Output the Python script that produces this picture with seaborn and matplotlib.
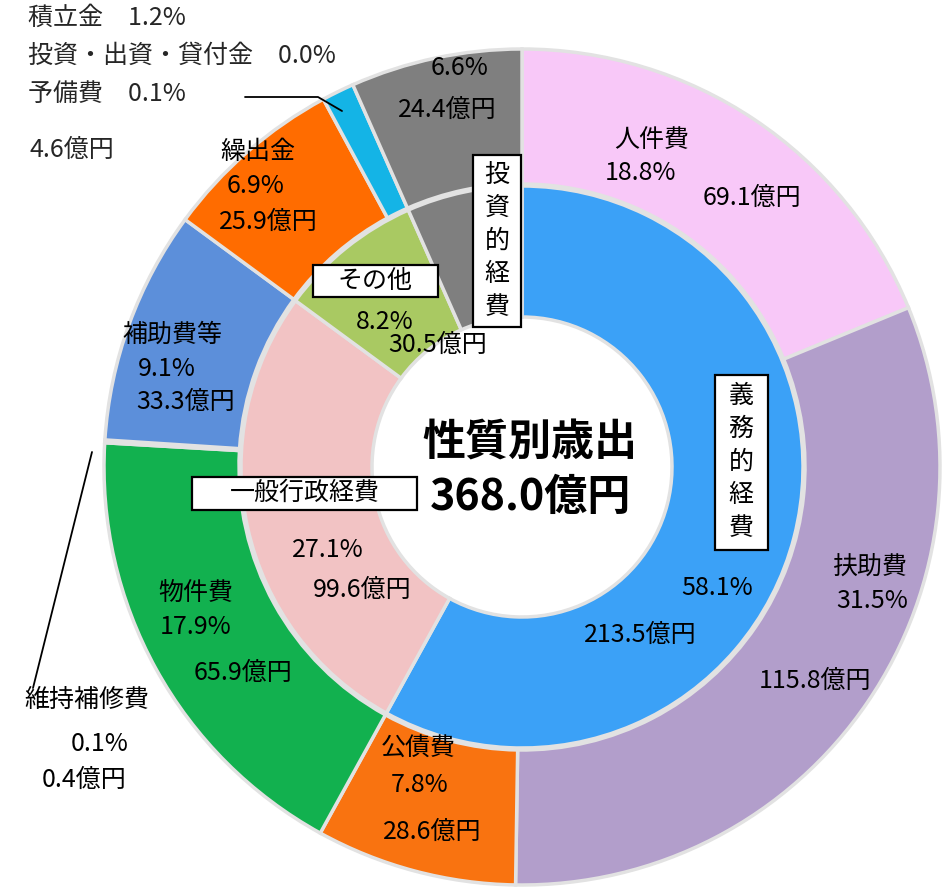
import matplotlib
matplotlib.use("Agg")
import matplotlib.pyplot as plt
from matplotlib.patches import Rectangle
import seaborn as sns

sns.set_theme(style="white")
plt.rcParams['font.family'] = ['Noto Sans CJK JP', 'DejaVu Sans']

# ---------------- data ----------------
outer_names = ["人件費", "扶助費", "公債費", "物件費", "維持補修費", "補助費等", "繰出金",
               "積立金・投資・出資・貸付金・予備費", "投資的経費"]
outer_values = [69.1, 115.8, 28.6, 65.9, 0.4, 33.3, 25.9, 4.6, 24.4]
outer_pcts = [18.8, 31.5, 7.8, 17.9, 0.1, 9.1, 6.9, 1.3, 6.6]
outer_colors = ["#F8C8F8", "#B29ECB", "#F97310", "#12B14F", "#D8D8D8",
                "#5C8FDA", "#FF6C00", "#14B4E6", "#7F7F7F"]

small_names = ["積立金", "投資・出資・貸付金", "予備費"]
small_pcts = [1.2, 0.0, 0.1]

inner_names = ["義務的経費", "一般行政経費", "その他", "投資的経費"]
inner_values = [213.5, 99.6, 30.5, 24.4]
inner_pcts = [58.1, 27.1, 8.2, 6.6]
inner_colors = ["#3BA1F7", "#F2C3C4", "#A9C962", "#7F7F7F"]

total_title = "性質別歳出"
total_value = 368.0

# ---------------- figure ----------------
W, H = 953, 890
fig = plt.figure(figsize=(W / 100, H / 100), dpi=100)
ax = fig.add_axes([0, 0, 1, 1])
ax.set_xlim(0, W)
ax.set_ylim(0, H)
ax.set_aspect("equal")
ax.axis("off")


def P(x, y):
    return (x, H - y)


cx, cy = P(522, 467)
R_out, R_mid, R_in = 418, 283, 150

ax.pie(outer_values, radius=R_out, center=(cx, cy), colors=outer_colors,
       startangle=90, counterclock=False,
       wedgeprops=dict(width=R_out - R_mid, edgecolor="#E2E2E2", linewidth=2.5))
ax.pie(inner_values, radius=R_mid - 2, center=(cx, cy), colors=inner_colors,
       startangle=90, counterclock=False,
       wedgeprops=dict(width=R_mid - 2 - R_in, edgecolor="#E2E2E2", linewidth=2.5))
ax.set_xlim(0, W)
ax.set_ylim(0, H)

FS = 18


def T(x, y, s, size=FS, **kw):
    ax.text(*P(x, y), s, fontsize=size, ha="center", va="center", color="black", **kw)


def BOX(x0, y0, x1, y1):
    ax.add_patch(Rectangle((x0, H - y1), x1 - x0, y1 - y0, facecolor="white",
                           edgecolor="black", linewidth=1.6, zorder=3))


def oku(v):
    return f"{v:.1f}億円"


def pc(v):
    return f"{v:.1f}%"


# outer labels
T(652, 140, outer_names[0]); T(641, 173, pc(outer_pcts[0])); T(752, 198, oku(outer_values[0]))
T(870, 567, outer_names[1]); T(872, 601, pc(outer_pcts[1])); T(815, 681, oku(outer_values[1]))
T(418, 749, outer_names[2]); T(420, 785, pc(outer_pcts[2])); T(432, 832, oku(outer_values[2]))
T(196, 593, outer_names[3]); T(196, 627, pc(outer_pcts[3])); T(243, 673, oku(outer_values[3]))
T(87, 700, outer_names[4]); T(100, 744, pc(outer_pcts[4])); T(84, 780, oku(outer_values[4]))
T(172, 335, outer_names[5]); T(167, 369, pc(outer_pcts[5])); T(186, 402, oku(outer_values[5]))
T(258, 152, outer_names[6]); T(256, 186, pc(outer_pcts[6])); T(268, 222, oku(outer_values[6]))
T(460, 68, pc(outer_pcts[8])); T(447, 110, oku(outer_values[8]))

# small items (left top)
ax.text(*P(28, 18), f"{small_names[0]}　{pc(small_pcts[0])}", fontsize=FS, ha="left", va="center")
ax.text(*P(28, 56), f"{small_names[1]}　{pc(small_pcts[1])}", fontsize=FS, ha="left", va="center")
ax.text(*P(28, 94), f"{small_names[2]}　{pc(small_pcts[2])}", fontsize=FS, ha="left", va="center")
ax.text(*P(30, 150), oku(outer_values[7]), fontsize=FS, ha="left", va="center")

# leader lines
ax.plot([P(245, 97)[0], P(318, 97)[0], P(342, 111)[0]],
        [P(245, 97)[1], P(318, 97)[1], P(342, 111)[1]], color="black", lw=1.3)
ax.plot([P(92, 452)[0], P(33, 688)[0]], [P(92, 452)[1], P(33, 688)[1]], color="black", lw=1.3)

# inner labels
BOX(715, 375, 768, 550)
T(741, 462, "\n".join(inner_names[0]), linespacing=1.35, zorder=4)
T(717, 588, pc(inner_pcts[0])); T(640, 635, oku(inner_values[0]))
BOX(192, 477, 417, 510)
T(305, 493, inner_names[1], zorder=4)
T(328, 550, pc(inner_pcts[1])); T(362, 590, oku(inner_values[1]))
BOX(313, 265, 438, 297)
T(375, 281, inner_names[2], zorder=4)
T(385, 322, pc(inner_pcts[2])); T(438, 345, oku(inner_values[2]))
BOX(473, 155, 521, 327)
T(497, 241, "\n".join(inner_names[3]), linespacing=1.35, zorder=4)

# centre title
T(530, 443, total_title, size=31, fontweight="bold")
T(530, 497, oku(total_value), size=31, fontweight="bold")

fig.savefig("out.png", dpi=100, facecolor="white")
